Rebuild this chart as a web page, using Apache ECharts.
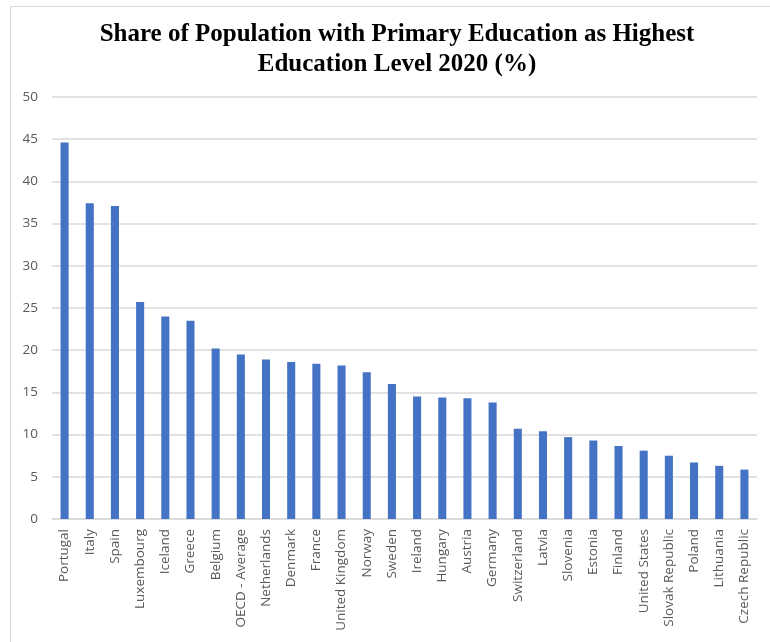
<!DOCTYPE html>
<html>
<head>
<meta charset="utf-8">
<script src="https://cdn.jsdelivr.net/npm/echarts@6/dist/echarts.min.js"></script>
<style>
  html, body { margin: 0; padding: 0; background: #ffffff; }
  #chart { width: 770px; height: 642px; }
</style>
</head>
<body>
<div id="chart"></div>
<script>
// Countries, ordered by share
const countries = [
  'Portugal', 'Italy', 'Spain', 'Luxembourg', 'Iceland', 'Greece', 'Belgium',
  'OECD - Average', 'Netherlands', 'Denmark', 'France', 'United Kingdom', 'Norway',
  'Sweden', 'Ireland', 'Hungary', 'Austria', 'Germany', 'Switzerland', 'Latvia',
  'Slovenia', 'Estonia', 'Finland', 'United States', 'Slovak Republic', 'Poland',
  'Lithuania', 'Czech Republic'
];

// Share of population with primary education as highest level, 2020 (%)
const shares = [
  44.6, 37.4, 37.1, 25.7, 24.0, 23.5, 20.2,
  19.5, 18.9, 18.6, 18.4, 18.2, 17.4,
  16.0, 14.5, 14.4, 14.3, 13.8, 10.7, 10.4,
  9.7, 9.3, 8.65, 8.1, 7.5, 6.7,
  6.3, 5.85
];

// Value axis ticks
const yMin = 0, yMax = 50, yStep = 5;

const chart = echarts.init(document.getElementById('chart'), null, { renderer: 'canvas' });

chart.setOption({
  backgroundColor: '#ffffff',
  animation: false,
  title: {
    text: 'Share of Population with Primary Education as Highest\nEducation Level 2020 (%)',
    left: 392,
    textAlign: 'center',
    top: 15,
    textStyle: {
      fontFamily: '"Liberation Serif", "Times New Roman", serif',
      fontWeight: 'bold',
      fontSize: 25,
      lineHeight: 30,
      color: '#000000'
    }
  },
  graphic: [
    { type: 'line', shape: { x1: 10, y1: 6.5, x2: 770, y2: 6.5 }, style: { stroke: '#d9d9d9', lineWidth: 1 } },
    { type: 'line', shape: { x1: 10.5, y1: 6, x2: 10.5, y2: 642 }, style: { stroke: '#d9d9d9', lineWidth: 1 } }
  ],
  grid: {
    left: 52,
    right: 13,
    top: 97,
    bottom: 123,
    containLabel: false
  },
  xAxis: {
    type: 'category',
    data: countries,
    axisLine: { show: true, lineStyle: { color: '#d9d9d9', width: 1.5 } },
    axisTick: { show: false },
    axisLabel: {
      rotate: 90,
      interval: 0,
      margin: 10,
      color: '#595959',
      fontFamily: '"Open Sans", "Liberation Sans", sans-serif',
      fontSize: 13.5
    }
  },
  yAxis: {
    type: 'value',
    min: yMin,
    max: yMax,
    interval: yStep,
    axisLine: { show: false },
    axisTick: { show: false },
    splitLine: { lineStyle: { color: '#d9d9d9', width: 1.5 } },
    axisLabel: {
      margin: 14,
      color: '#595959',
      fontFamily: '"Open Sans", "Liberation Sans", sans-serif',
      fontSize: 13.5
    }
  },
  series: [{
    type: 'bar',
    data: shares,
    barWidth: '32%',
    itemStyle: { color: '#4472c4' }
  }]
});
</script>
</body>
</html>
